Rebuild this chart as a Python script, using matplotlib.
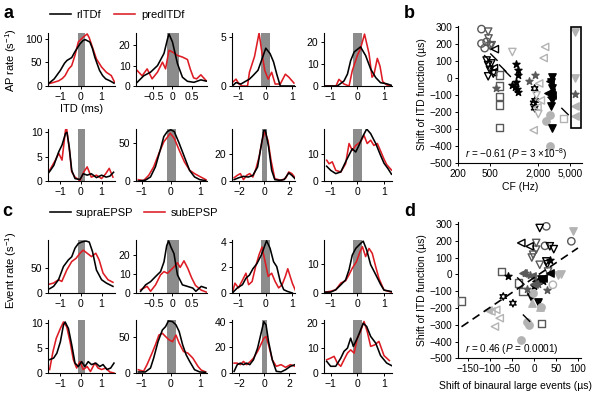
import matplotlib
matplotlib.use('Agg')
import matplotlib.pyplot as plt
from matplotlib.lines import Line2D
from matplotlib.patches import Rectangle

plt.rcParams['font.family'] = ['Liberation Sans', 'DejaVu Sans']
plt.rcParams['mathtext.fontset'] = 'custom'
plt.rcParams['mathtext.rm'] = 'Liberation Sans'
plt.rcParams['mathtext.it'] = 'Liberation Sans:italic'
plt.rcParams['axes.linewidth'] = 0.8

# ---- panel a: rITDf (black) vs predITDf (red), (ITD ms, AP rate) ----
a1_black = [(-1.55, 6), (-1.3, 15), (-1.0, 33), (-0.8, 48), (-0.68, 54), (-0.45, 60), (-0.3, 72), (-0.05, 89),
            (0.1, 96), (0.2, 98), (0.43, 93), (0.55, 80), (0.67, 61), (0.8, 45), (0.9, 33), (1.05, 22),
            (1.2, 15), (1.4, 11), (1.6, 6)]
a1_red = [(-1.55, 5), (-1.3, 8), (-1.08, 11), (-0.9, 16), (-0.77, 22), (-0.6, 36), (-0.45, 43), (-0.29, 65),
          (-0.13, 93), (0.1, 103), (0.3, 110), (0.4, 102), (0.5, 89), (0.75, 57), (1.0, 40), (1.23, 29),
          (1.47, 22), (1.63, 8)]
a2_black = [(-0.92, 1.8), (-0.75, 5), (-0.57, 6.8), (-0.39, 10), (-0.22, 16), (-0.13, 23), (-0.09, 25.5),
            (0.0, 21.6), (0.13, 11), (0.26, 4.3), (0.39, 2.3), (0.56, 1.8), (0.74, 3), (0.88, 2.4)]
a2_red = [(-0.92, 7.6), (-0.79, 5), (-0.66, 8.4), (-0.53, 3.5), (-0.39, 6.8), (-0.26, 11.7), (-0.18, 8.4),
          (-0.09, 17.5), (0.0, 16.7), (0.13, 15), (0.26, 14.2), (0.39, 13), (0.47, 8), (0.55, 4), (0.63, 3.5),
          (0.74, 5.5), (0.88, 2.6)]
a3_black = [(-1.24, 0), (-1.1, 0.35), (-0.92, 0.2), (-0.73, 0.5), (-0.6, 0.7), (-0.47, 1.05), (-0.28, 1.6),
            (-0.15, 2.6), (0.01, 3.85), (0.17, 3.3), (0.3, 2.45), (0.42, 1.2), (0.55, 0), (1.08, 0)]
a3_red = [(-1.24, 0.35), (-1.1, 0.7), (-0.99, 0.2), (-0.86, 0), (-0.67, 0), (-0.6, 1.4), (-0.41, 3),
          (-0.24, 5.4), (-0.15, 3.7), (-0.03, 1.6), (0.1, 0.7), (0.23, 1.4), (0.36, 0.2), (0.55, 0.2),
          (0.74, 1.2), (0.87, 0.9), (1.06, 0.3)]
a4_black = [(-1.2, 0), (-0.75, 0), (-0.5, 2.3), (-0.37, 5.4), (-0.25, 11.5), (-0.12, 15.4), (0.12, 17.7),
            (0.31, 13.8), (0.5, 7.7), (0.69, 3.8), (0.87, 1.5), (1.1, 1), (1.28, 0.3)]
a4_red = [(-1.2, 0), (-0.8, 0), (-0.69, 3), (-0.5, 0.9), (-0.31, 0), (-0.19, 6.9), (0.0, 13.8), (0.12, 17),
          (0.27, 23.5), (0.44, 14.6), (0.55, 4), (0.62, 5), (0.75, 12.5), (0.85, 9), (0.95, 2), (1.1, 0.5),
          (1.28, 0)]
a5_black = [(-1.55, 1.8), (-1.48, 2.2), (-1.32, 3.2), (-1.08, 6), (-0.92, 7.4), (-0.75, 9.8), (-0.68, 10),
            (-0.57, 7), (-0.45, 2.2), (-0.29, 0.5), (-0.05, 0.3), (0.11, 1.5), (0.3, 1.2), (0.5, 1.5),
            (0.75, 0.7), (1.0, 1.2), (1.22, 0.8), (1.4, 1.0), (1.58, 1.8)]
a5_red = [(-1.55, 2.0), (-1.48, 2.5), (-1.24, 4.3), (-1.08, 5.7), (-0.92, 4.3), (-0.75, 10.5), (-0.7, 10.9),
          (-0.56, 6.3), (-0.45, 1.9), (-0.29, 0.8), (-0.05, 0.1), (0.14, 1.9), (0.3, 2.9), (0.5, 0.8),
          (0.75, 1.2), (1.0, 0.5), (1.2, 1.5), (1.37, 2.6), (1.55, 0.8)]
a6_black = [(-1.12, 0), (-0.88, 1), (-0.7, 5.4), (-0.53, 18.8), (-0.35, 43), (-0.24, 59), (-0.12, 65.6),
            (0.0, 68), (0.12, 65.6), (0.29, 50), (0.47, 32), (0.65, 14), (0.82, 5.4), (1.0, 1.8), (1.2, 0.5)]
a6_red = [(-1.12, 1.8), (-0.94, 0.5), (-0.76, 7.6), (-0.59, 18.8), (-0.41, 36.6), (-0.24, 52), (-0.08, 60),
          (-0.02, 63.4), (0.12, 56.7), (0.29, 41), (0.47, 25.4), (0.65, 14.3), (0.82, 9.8), (1.0, 6),
          (1.1, 4), (1.22, 1.5)]
a7_black = [(-2.43, 1), (-2.05, 2.4), (-1.68, 3.4), (-1.3, 2.9), (-0.93, 4.1), (-0.55, 10.2), (-0.3, 23.7),
            (-0.05, 37), (0.08, 37), (0.33, 25), (0.58, 7.8), (0.83, 1), (1.2, 0.5), (1.58, 1), (1.95, 5.9),
            (2.2, 4.1), (2.45, 1.7)]
a7_red = [(-2.43, 2.4), (-2.18, 4.1), (-1.93, 5.4), (-1.68, 1), (-1.43, 4.1), (-1.18, 5.4), (-0.93, 2.9),
          (-0.68, 9), (-0.43, 17.6), (-0.18, 29.8), (0.03, 35.9), (0.28, 29.8), (0.53, 15), (0.83, 1.7),
          (1.33, 0.5), (1.7, 2), (1.95, 6.6), (2.2, 5.4), (2.45, 2.4)]
a8_black = [(-1.15, 5.4), (-1.0, 3.9), (-0.81, 2.7), (-0.62, 3.3), (-0.44, 7), (-0.31, 9.5), (-0.19, 11.8),
            (-0.06, 10.6), (0.06, 13), (0.19, 16), (0.35, 19), (0.5, 17.3), (0.69, 13.7), (0.87, 9.4),
            (1.0, 6.5), (1.15, 4.5), (1.28, 2.5)]
a8_red = [(-1.15, 7.6), (-1.06, 6.3), (-0.94, 7), (-0.81, 3.9), (-0.62, 3.3), (-0.44, 6.3), (-0.31, 13.7),
          (-0.19, 11.2), (-0.06, 13), (0.12, 14.3), (0.25, 16.7), (0.37, 13.7), (0.5, 14.9), (0.62, 13),
          (0.75, 13.7), (0.87, 11), (1.0, 8), (1.1, 6), (1.28, 4)]

# ---- panel c: supraEPSP (black) vs subEPSP (red), (ITD ms, event rate) ----
c1_black = [(-1.52, 8.4), (-1.33, 13), (-1.09, 26), (-0.85, 52), (-0.61, 65), (-0.45, 71), (-0.29, 88),
            (-0.13, 97), (0.03, 100), (0.24, 102), (0.4, 100), (0.56, 81), (0.75, 45), (1.0, 26),
            (1.23, 19.5), (1.55, 13)]
c1_red = [(-1.52, 17.5), (-1.33, 19.5), (-1.09, 26), (-0.93, 22.7), (-0.69, 45), (-0.45, 61.7), (-0.24, 68),
          (-0.05, 78), (0.11, 84), (0.3, 78), (0.51, 71.4), (0.72, 78), (0.88, 65), (1.07, 39), (1.31, 26),
          (1.55, 21)]
c2_black = [(-0.83, 0.9), (-0.7, 4.3), (-0.57, 6), (-0.44, 8.7), (-0.31, 11.3), (-0.22, 16.5), (-0.15, 25),
            (-0.1, 27.5), (-0.04, 24.3), (0.04, 20.8), (0.13, 9.6), (0.26, 4.3), (0.39, 3.5), (0.53, 2.6),
            (0.61, 0.9), (0.75, 3.5), (0.88, 2.6)]
c2_red = [(-0.83, 1.7), (-0.66, 3.5), (-0.57, 0.9), (-0.44, 4.3), (-0.31, 9.6), (-0.22, 11.3), (-0.13, 10.4),
          (-0.04, 12.2), (0.05, 14), (0.13, 16), (0.2, 13.5), (0.3, 17), (0.4, 13), (0.5, 8), (0.6, 4),
          (0.75, 1.5), (0.88, 0.5)]
c3_black = [(-1.24, 0), (-1.05, 0.4), (-0.86, 0.65), (-0.73, 1.16), (-0.6, 1.4), (-0.47, 1.9), (-0.32, 2.3),
            (-0.15, 3), (-0.03, 3.7), (0.04, 4.1), (0.17, 3.5), (0.3, 2.45), (0.42, 2.06), (0.55, 0.9),
            (0.68, 0.26), (0.81, 0.13), (1.0, 0)]
c3_red = [(-1.24, 0), (-1.14, 0.77), (-1.01, 0.4), (-0.86, 1), (-0.73, 1.55), (-0.63, 0.65), (-0.5, 0.9),
          (-0.37, 2.06), (-0.24, 3), (-0.13, 3.6), (-0.03, 2.6), (0.1, 1.3), (0.23, 1.55), (0.36, 0.9),
          (0.49, 0.4), (0.62, 0.65), (0.74, 1.3), (0.83, 1.9), (1.0, 0.77), (1.13, 0.13)]
c4_black = [(-1.19, 0.3), (-1.0, 0.3), (-0.81, 1.1), (-0.62, 2.8), (-0.44, 4.5), (-0.31, 8), (-0.19, 13),
            (-0.06, 15.3), (0.12, 17), (0.22, 17.8), (0.35, 14.8), (0.5, 9.7), (0.69, 6.3), (0.87, 3),
            (1.0, 1), (1.28, 0.5)]
c4_red = [(-1.19, 0.3), (-1.0, 0.6), (-0.81, 1.1), (-0.62, 3.4), (-0.44, 4.2), (-0.31, 6.3), (-0.19, 8.5),
          (-0.03, 10.8), (0.1, 14.2), (0.19, 15.9), (0.31, 12.5), (0.44, 15.3), (0.56, 13.6), (0.69, 9),
          (0.81, 5), (1.0, 1), (1.28, 0.3)]
c5_black = [(-1.52, 2.7), (-1.33, 3), (-1.17, 4), (-1.0, 6.3), (-0.85, 9.7), (-0.77, 10.3), (-0.61, 9),
            (-0.45, 5.7), (-0.29, 2), (-0.13, 1.3), (0.03, 2.3), (0.19, 1.3), (0.35, 2.3), (0.51, 1.7),
            (0.72, 2), (0.91, 1.3), (1.07, 1.7), (1.26, 0.7), (1.44, 1), (1.6, 2)]
c5_red = [(-1.52, 0.7), (-1.36, 4.3), (-1.2, 7), (-1.0, 9), (-0.85, 10.3), (-0.69, 9.3), (-0.53, 6.3),
          (-0.37, 2.7), (-0.21, 1), (-0.05, 2.3), (0.11, 0.7), (0.3, 1.3), (0.46, 0.3), (0.67, 2), (0.83, 1),
          (1.0, 0.7), (1.2, 1), (1.4, 0.2), (1.6, 0)]
c6_black = [(-1.12, 1.4), (-0.88, 1.4), (-0.7, 6.8), (-0.59, 20.5), (-0.44, 43), (-0.29, 59), (-0.18, 63.6),
            (-0.08, 71.4), (0.06, 70.5), (0.18, 66), (0.29, 56.8), (0.41, 38.6), (0.53, 25), (0.65, 16),
            (0.82, 4.5), (1.0, 1.4), (1.2, 1)]
c6_red = [(-1.12, 4.5), (-0.94, 2.3), (-0.82, 11.4), (-0.65, 27), (-0.53, 38.6), (-0.41, 52), (-0.29, 54.5),
          (-0.18, 50), (-0.06, 45.5), (0.06, 43), (0.18, 52), (0.29, 40.9), (0.44, 29.5), (0.59, 27.3),
          (0.76, 20.5), (0.94, 9), (1.05, 4), (1.2, 1.5)]
c7_black = [(-2.43, 1.3), (-2.18, 6.5), (-1.93, 7.7), (-1.68, 6.5), (-1.43, 7.7), (-1.18, 6.5), (-0.88, 10.3),
            (-0.55, 19.4), (-0.3, 29.7), (-0.05, 40), (0.13, 37.4), (0.33, 24.5), (0.63, 10.3), (0.95, 1.3),
            (1.33, 0.8), (1.7, 2.6), (2.08, 5.2), (2.45, 6.5)]
c7_red = [(-2.43, 7.7), (-2.18, 7.7), (-1.93, 6.5), (-1.68, 9), (-1.43, 6.5), (-1.13, 9), (-0.88, 11.6),
          (-0.55, 16.8), (-0.3, 21.9), (-0.05, 27.1), (0.13, 28.4), (0.33, 22), (0.63, 10.3), (0.95, 5.2),
          (1.33, 6.5), (1.7, 4.4), (2.08, 6.5), (2.45, 5.2)]
c8_black = [(-1.15, 4.7), (-1.0, 2.7), (-0.81, 2.7), (-0.62, 6), (-0.5, 8.7), (-0.37, 10), (-0.25, 14),
            (-0.15, 10.7), (0.0, 14), (0.1, 16.7), (0.22, 20), (0.35, 18.7), (0.5, 14.7), (0.69, 12),
            (0.87, 7), (1.1, 4), (1.28, 3)]
c8_red = [(-1.15, 5.3), (-1.0, 6), (-0.87, 6.7), (-0.75, 4), (-0.62, 2.7), (-0.5, 5.3), (-0.37, 8),
          (-0.25, 9.3), (-0.12, 8), (0.0, 14), (0.12, 16.7), (0.25, 20.7), (0.37, 16.7), (0.5, 10.7),
          (0.65, 11.3), (0.81, 12.7), (1.0, 7), (1.2, 5)]

# gray bars (ITD range, ms)
bar_col1 = (-0.14, 0.19)
bar_col2 = (-0.13, 0.17)
bar_col3 = (-0.15, 0.17)
bar_col3_wide = (-0.22, 0.2)
bar_col4 = (-0.15, 0.19)

# ---- panel b: CF (Hz) vs shift of ITD function (us) ----
b_circle_open = [(392, 290), (392, 205), (430, 178), (455, 215)]
b_tridown_open_dk = [(475, 275), (480, 235), (505, 190), (525, 195)]
b_tridown_open_k = [(455, 105), (475, 78), (500, 50), (475, 12), (550, 28), (520, 88)]
b_trileft_open_k = [(575, 172), (560, 60), (545, 35)]
b_slash_k = [(470, 115), (560, 125), (720, 60), (820, 30), (2900, -130), (4300, -195)]
b_square_open_dk = [(661, 20), (661, -45), (661, -108), (661, -157), (661, -290)]
b_star_dk = [(603, -55), (1800, 20), (1550, -15), (5800, -90)]
b_star_k = [(1070, 85), (1120, 49), (1120, 20), (1070, -20), (1030, -49), (1120, -78), (950, -40), (1100, -60)]
b_hex_open_k = [(1800, -60), (1820, -130), (1800, -175), (1750, -145)]
b_asterisk_dk = [(620, 140)]
b_asterisk_lg = [(2600, 125), (1900, -40)]
b_trileft_open_lg = [(2430, 185), (2330, 120), (2050, -30), (2150, -130), (1950, -170), (1750, -305)]
b_tridown_open_lg = [(950, 155), (1900, -100), (2000, -210)]
b_circle_lg = [(2800, -400), (2800, -215), (2500, -250)]
b_tridown_k = [(2960, 10), (2900, -20), (3000, -55), (2960, -125), (2900, -160), (2950, -295)]
b_trileft_k = [(2800, -15), (2850, -80), (2650, -85), (3000, -100)]
b_square_open_lg = [(4130, -235)]
b_tridown_lg = [(5800, 270), (5800, 0)]
b_trileft_lg = [(5800, -165), (5800, -220)]
b_box = (5050, 6800, -290, 305)

# ---- panel d: shift of binaural large events (us) vs shift of ITD function (us) ----
d_circle_open = [(28, 286), (85, 197), (25, 170)]
d_circle_open_lg = [(43, -62)]
d_tridown_open_k = [(13, 276), (36, 167), (45, 150), (28, 77), (30, 60)]
d_tridown_open_dk = [(5, 187), (5, 147), (-2, 117), (13, 57), (32, 17), (-5, 100)]
d_trileft_open_k = [(-29, 187), (-10, 167)]
d_asterisk_lg = [(-59, 137)]
d_square_open_dk = [(-74, 17), (-36, -52), (-25, -102), (17, -291), (-165, -158)]
d_trileft_open_lg = [(-97, -221), (-86, -211), (-78, -261), (-89, -311)]
d_trileft_lg = [(-105, -211)]
d_star_k = [(-59, -12), (36, 87), (20, -40), (0, -70)]
d_hex_open_k = [(-70, -132), (-48, -172)]
d_tridown_k = [(-6, -132), (9, -162), (15, -30)]
d_circle_lg = [(-2, -112), (17, -192), (-29, -391), (-17, -281), (-12, -300)]
d_tridown_lg = [(89, 256), (55, -3), (62, 2)]
d_triup_lg = [(13, -192), (-5, -170)]
d_trileft_k = [(36, 7), (20, -22), (5, -42)]
d_star_dk = [(-15, -90), (10, -60), (-20, 10), (30, -95), (-10, -5)]
d_trileft_dk = [(-25, 10), (-5, -10), (0, -60)]
d_slash_k = [(-17, -261), (-30, -40)]
d_fit_slope, d_fit_intercept = 1.77, -20
d_fit_range = (-165, 100)

RED = '#dd1c24'
DK, LG = '0.35', '0.7'
W, H = 600, 393
fig = plt.figure(figsize=(6, 3.93), dpi=100)


def box(l, r, t, b):
    return [l / W, 1 - b / H, (r - l) / W, (b - t) / H]


def style(ax, size=7.5):
    for s in ['top', 'right']:
        ax.spines[s].set_visible(False)
    ax.tick_params(direction='out', length=2.5, width=0.7, pad=1.5, labelsize=size)


cols = [(48, 115), (136, 207), (232, 295), (324, 392)]
rows = [(33, 86), (129, 181), (240, 293), (320, 373)]
xl = [(-1.6, 1.65), (-0.95, 0.9), (-1.25, 1.1), (-1.25, 1.3)]
xt = [[-1, 0, 1], [-0.5, 0, 0.5], [-1, 0, 1], [-1, 0, 1]]
xtl = [['−1', '0', '1'], ['−0.5', '0', '0.5'], ['−1', '0', '1'], ['−1', '0', '1']]

panels = [
    (0, 0, a1_black, a1_red, bar_col1, None, (0, 112), [0, 50, 100]),
    (0, 1, a2_black, a2_red, bar_col2, None, (0, 26), [0, 10, 20]),
    (0, 2, a3_black, a3_red, bar_col3, None, (0, 5.4), [0, 5]),
    (0, 3, a4_black, a4_red, bar_col4, None, (0, 24), [0, 10, 20]),
    (1, 0, a5_black, a5_red, bar_col1, None, (0, 10.7), [0, 5, 10]),
    (1, 1, a6_black, a6_red, bar_col2, (-1.2, 1.25), (0, 69), [0, 50]),
    (1, 2, a7_black, a7_red, bar_col3_wide, (-2.6, 2.45), (0, 38), [0, 20]),
    (1, 3, a8_black, a8_red, bar_col4, None, (0, 19), [0, 10]),
    (2, 0, c1_black, c1_red, bar_col1, None, (0, 104), [0, 50]),
    (2, 1, c2_black, c2_red, bar_col2, None, (0, 28), [0, 10, 20]),
    (2, 2, c3_black, c3_red, bar_col3, None, (0, 4.15), [0, 2, 4]),
    (2, 3, c4_black, c4_red, bar_col4, None, (0, 18.2), [0, 10]),
    (3, 0, c5_black, c5_red, bar_col1, None, (0, 10.7), [0, 5, 10]),
    (3, 1, c6_black, c6_red, bar_col2, (-1.2, 1.25), (0, 72.7), [0, 50]),
    (3, 2, c7_black, c7_red, bar_col3_wide, (-2.6, 2.45), (0, 41.3), [0, 20, 40]),
    (3, 3, c8_black, c8_red, bar_col4, None, (0, 21.3), [0, 10, 20]),
]

for r, c, blk, red, bar, xlim, ylim, yt in panels:
    ax = fig.add_axes(box(cols[c][0], cols[c][1], rows[r][0], rows[r][1]))
    style(ax)
    ax.axvspan(bar[0], bar[1], color='0.55', lw=0, zorder=1)
    ax.plot([p[0] for p in blk], [p[1] for p in blk], color='k', lw=1.15, zorder=3)
    ax.plot([p[0] for p in red], [p[1] for p in red], color=RED, lw=1.15, zorder=2)
    ax.set_ylim(*ylim)
    ax.set_yticks(yt)
    if xlim is None:
        ax.set_xlim(*xl[c])
        ax.set_xticks(xt[c])
        ax.set_xticklabels(xtl[c])
    else:
        ax.set_xlim(*xlim)
        if c == 2:
            ax.set_xticks([-2, 0, 2])
            ax.set_xticklabels(['−2', '0', '2'])
        else:
            ax.set_xticks([-1, 0, 1])
            ax.set_xticklabels(['−1', '0', '1'])

# labels and legends for a / c
fig.text(11 / W, 1 - 60 / H, 'AP rate (s$^{-1}$)', rotation=90, ha='center', va='center', fontsize=8)
fig.text(11 / W, 1 - 270 / H, 'Event rate (s$^{-1}$)', rotation=90, ha='center', va='center', fontsize=8)
fig.text(82 / W, 1 - 109 / H, 'ITD (ms)', ha='center', va='center', fontsize=8)
for txt, x, y in [('a', 3, 14), ('b', 404, 13), ('c', 2, 211), ('d', 404, 211)]:
    fig.text(x / W, 1 - y / H, txt, fontsize=13, fontweight='bold', ha='left', va='center')

h = [Line2D([], [], color='k', lw=1.15), Line2D([], [], color=RED, lw=1.15)]
fig.legend(h, ['rITDf', 'predITDf'], loc='center left', bbox_to_anchor=(44 / W, 1 - 15 / H), ncol=2,
           frameon=False, fontsize=8, handlelength=1.9, handletextpad=0.5, columnspacing=1.2, borderpad=0)
fig.legend(h, ['supraEPSP', 'subEPSP'], loc='center left', bbox_to_anchor=(44 / W, 1 - 213 / H), ncol=2,
           frameon=False, fontsize=8, handlelength=1.9, handletextpad=0.5, columnspacing=0.9, borderpad=0)

SLASH = [(-1, 1), (1, -1)]
styles = {
    'circle_open': dict(marker='o', fc='none', ec=DK),
    'circle_open_lg': dict(marker='o', fc='none', ec=LG),
    'tridown_open_dk': dict(marker='v', fc='none', ec=DK),
    'tridown_open_k': dict(marker='v', fc='none', ec='k'),
    'tridown_open_lg': dict(marker='v', fc='none', ec=LG),
    'trileft_open_k': dict(marker='<', fc='none', ec='k'),
    'trileft_open_lg': dict(marker='<', fc='none', ec=LG),
    'slash_k': dict(marker=SLASH, fc='none', ec='k'),
    'square_open_dk': dict(marker='s', fc='none', ec=DK),
    'square_open_lg': dict(marker='s', fc='none', ec=LG),
    'star_dk': dict(marker='*', fc=DK, ec=DK),
    'star_k': dict(marker='*', fc='k', ec='k'),
    'hex_open_k': dict(marker=(6, 1, 0), fc='none', ec='k'),
    'asterisk_dk': dict(marker=(6, 2, 0), fc='none', ec=DK),
    'asterisk_lg': dict(marker=(6, 2, 0), fc='none', ec=LG),
    'circle_lg': dict(marker='o', fc=LG, ec=LG),
    'tridown_k': dict(marker='v', fc='k', ec='k'),
    'trileft_k': dict(marker='<', fc='k', ec='k'),
    'trileft_dk': dict(marker='<', fc=DK, ec=DK),
    'tridown_lg': dict(marker='v', fc=LG, ec=LG),
    'trileft_lg': dict(marker='<', fc=LG, ec=LG),
    'triup_lg': dict(marker='^', fc=LG, ec=LG),
}


def scatter_groups(ax, groups):
    for name, pts in groups:
        st = styles[name]
        ax.scatter([p[0] for p in pts], [p[1] for p in pts], s=28, marker=st['marker'],
                   facecolors=st['fc'], edgecolors=st['ec'], linewidths=1.0, zorder=3, clip_on=False)


ytl = ['−500', '−400', '−300', '−200', '−100', '0', '100', '200', '300']

# panel b
axb = fig.add_axes(box(458, 582, 25.7, 163.3))
style(axb, 7.2)
axb.set_xscale('log')
scatter_groups(axb, [
    ('circle_open', b_circle_open), ('tridown_open_dk', b_tridown_open_dk), ('tridown_open_k', b_tridown_open_k),
    ('trileft_open_k', b_trileft_open_k), ('slash_k', b_slash_k), ('square_open_dk', b_square_open_dk),
    ('star_dk', b_star_dk), ('star_k', b_star_k), ('hex_open_k', b_hex_open_k), ('asterisk_dk', b_asterisk_dk),
    ('asterisk_lg', b_asterisk_lg), ('trileft_open_lg', b_trileft_open_lg), ('tridown_open_lg', b_tridown_open_lg),
    ('circle_lg', b_circle_lg), ('tridown_k', b_tridown_k), ('trileft_k', b_trileft_k),
    ('square_open_lg', b_square_open_lg), ('tridown_lg', b_tridown_lg), ('trileft_lg', b_trileft_lg),
])
axb.add_patch(Rectangle((b_box[0], b_box[2]), b_box[1] - b_box[0], b_box[3] - b_box[2],
                        fill=False, ec='k', lw=1.2, zorder=4, clip_on=False))
axb.set_xlim(200, 7000)
axb.set_ylim(-500, 310)
axb.set_xticks([200, 500, 2000, 5000])
axb.set_xticklabels(['200', '500', '2,000', '5,000'])
axb.minorticks_off()
axb.set_yticks(range(-500, 301, 100))
axb.set_yticklabels(ytl)
axb.set_xlabel('CF (Hz)', fontsize=7.5, labelpad=2)
axb.set_ylabel('Shift of ITD function (µs)', fontsize=7.5, labelpad=2)
axb.text(0.06, 0.065, '$r$ = −0.61 ($P$ = 3 ×10$^{−8}$)', transform=axb.transAxes, fontsize=7.2, va='center')

# panel d
axd = fig.add_axes(box(458, 581, 222.3, 358.3))
style(axd, 7.2)
scatter_groups(axd, [
    ('circle_open', d_circle_open), ('circle_open_lg', d_circle_open_lg), ('tridown_open_k', d_tridown_open_k),
    ('tridown_open_dk', d_tridown_open_dk), ('trileft_open_k', d_trileft_open_k), ('asterisk_lg', d_asterisk_lg),
    ('square_open_dk', d_square_open_dk), ('trileft_open_lg', d_trileft_open_lg), ('trileft_lg', d_trileft_lg),
    ('star_k', d_star_k), ('hex_open_k', d_hex_open_k), ('tridown_k', d_tridown_k), ('circle_lg', d_circle_lg),
    ('tridown_lg', d_tridown_lg), ('triup_lg', d_triup_lg), ('trileft_k', d_trileft_k), ('star_dk', d_star_dk),
    ('trileft_dk', d_trileft_dk), ('slash_k', d_slash_k),
])
fx = list(d_fit_range)
axd.plot(fx, [d_fit_slope * v + d_fit_intercept for v in fx], color='k', lw=1.2, ls=(0, (5, 3)), zorder=4)
axd.set_xlim(-173, 107)
axd.set_ylim(-500, 310)
axd.set_xticks([-150, -100, -50, 0, 50, 100])
axd.set_xticklabels(['−150', '−100', '−50', '0', '50', '100'])
axd.set_yticks(range(-500, 301, 100))
axd.set_yticklabels(ytl)
axd.set_xlabel('Shift of binaural large events (µs)', fontsize=7.5, labelpad=2)
axd.xaxis.set_label_coords(0.47, -0.17)
axd.set_ylabel('Shift of ITD function (µs)', fontsize=7.5, labelpad=2)
axd.text(0.06, 0.07, '$r$ = 0.46 ($P$ = 0.0001)', transform=axd.transAxes, fontsize=7.2, va='center')

fig.savefig('out.png', dpi=100)
